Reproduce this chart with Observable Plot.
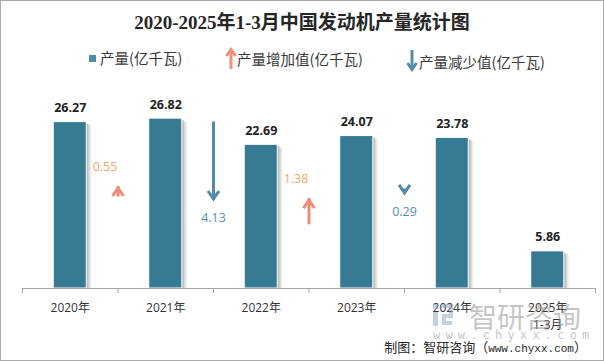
<!DOCTYPE html>
<html>
<head>
<meta charset="utf-8">
<script src="https://cdn.jsdelivr.net/npm/d3@7"></script>
<script src="https://cdn.jsdelivr.net/npm/@observablehq/plot@0.6"></script>
<style>
  html, body { margin: 0; padding: 0; background: #fff; }
  #wrap { position: relative; width: 604px; height: 361px; overflow: hidden; background: #fff;
          font-family: "Noto Sans CJK SC", sans-serif; color: #333; }
  #frame { position: absolute; left: 0; top: 0; width: 604px; height: 361px; box-sizing: border-box;
           border: 1px solid #a9a9a9; pointer-events: none; z-index: 5; }
  #title { position: absolute; left: 0; width: 604px; top: 9px; text-align: center;
           font-family: "Liberation Serif", "Noto Sans CJK SC", serif; font-weight: bold;
           font-size: 19px; line-height: 28px; color: #262626; white-space: nowrap; }
  .lg { position: absolute; font-size: 14.5px; line-height: 20px; color: #3a3a3a; white-space: nowrap; }
  .sq { position: absolute; width: 7px; height: 7px; background: #4a8ea8; }
  #chart { position: absolute; left: 0; top: 80px; }
  #caption { position: absolute; right: 17px; top: 338px; font-size: 13px; line-height: 18px;
             color: #262626; white-space: nowrap; }
  #caption .url { font-family: "Liberation Mono", monospace; font-size: 11px; }
  .wm { position: absolute; pointer-events: none; z-index: 4; white-space: nowrap; color: rgba(140,140,140,0.5); }
</style>
</head>
<body>
<div id="wrap">
  <div id="title">2020-2025年1-3月中国发动机产量统计图</div>

  <div class="sq" style="left:89px;top:55px"></div>
  <div class="lg" style="left:100px;top:48px">产量(亿千瓦)</div>
  <svg style="position:absolute;left:225px;top:47px" width="12" height="23">
    <line x1="6" y1="22" x2="6" y2="3" stroke="#f08e7a" stroke-width="3"/>
    <polyline points="1.5,9 6,2.5 10.5,9" fill="none" stroke="#f08e7a" stroke-width="3"/>
  </svg>
  <div class="lg" style="left:237px;top:49px">产量增加值(亿千瓦)</div>
  <svg style="position:absolute;left:406px;top:49px" width="12" height="23">
    <line x1="6" y1="1" x2="6" y2="20" stroke="#568ea8" stroke-width="3"/>
    <polyline points="1.5,14 6,20.5 10.5,14" fill="none" stroke="#568ea8" stroke-width="3"/>
  </svg>
  <div class="lg" style="left:419px;top:52px">产量减少值(亿千瓦)</div>

  <div id="chart"></div>

  <svg class="wm" style="left:432px;top:304px" width="22" height="23">
    <rect x="1" y="0" width="5" height="5" fill="rgba(120,150,185,0.45)"/>
    <rect x="1" y="8" width="5" height="14" fill="rgba(120,150,185,0.45)"/>
    <path d="M9,2 H19 V12 H12 V19 H20" fill="none" stroke="rgba(120,150,185,0.45)" stroke-width="4"/>
  </svg>
  <div class="wm" style="left:469px;top:299px;font-size:28px;line-height:34px;">智研咨询</div>
  <div class="wm" style="left:433px;top:327px;font-size:12px;line-height:16px;letter-spacing:5.2px;font-family:'DejaVu Sans Mono',monospace;">www.chyxx.com</div>

  <div id="caption">制图：智研咨询（<span class="url">www.chyxx.com</span>）</div>
  <div id="frame"></div>
</div>
<script>
// ---- data ----
const years = ["2020年", "2021年", "2022年", "2023年", "2024年", "2025年\n1-3月"];
const output = [26.27, 26.82, 22.69, 24.07, 23.78, 5.86];          // 产量(亿千瓦)
const changes = [0.55, -4.13, 1.38, -0.29];                          // year-over-year change between neighbours
const arrowTip = [16.1, 13.9, 14.2, 14.85];                          // level (in 亿千瓦 units) where each arrow points

// ---- derived tables ----
const bars = years.map((year, i) => ({ i, year, value: output[i] }));
const arrows = changes.map((c, i) => ({
  b: i + 1, change: c, tip: arrowTip[i], tail: arrowTip[i] - 3 * c,
  label: Math.abs(c).toFixed(2)
}));
const ups = arrows.filter(d => d.change > 0);
const downs = arrows.filter(d => d.change < 0);
const bounds = d3.range(years.length + 1);

const UP = "#ef8c78", DOWN = "#548ca7", UPTXT = "#f2a66b", DOWNTXT = "#5390b4";
const BAR = "#367b93";
const hw = 0.173;

const chevUp = { draw(ctx, size) { const r = Math.sqrt(size / Math.PI);
  ctx.moveTo(-r, r * 1.45 + 1.5); ctx.lineTo(0, 1.5); ctx.lineTo(r, r * 1.45 + 1.5); } };
const chevDown = { draw(ctx, size) { const r = Math.sqrt(size / Math.PI);
  ctx.moveTo(-r, -r * 1.45 - 1.5); ctx.lineTo(0, -1.5); ctx.lineTo(r, -r * 1.45 - 1.5); } };

const numFont = "Open Sans, Noto Sans CJK SC, sans-serif";

const chart = Plot.plot({
  width: 604,
  height: 260,
  marginLeft: 22,
  marginRight: 9,
  marginTop: 18,
  marginBottom: 52,
  x: { domain: [0, years.length], axis: null },
  y: { domain: [0, 30], axis: null },
  style: { background: "transparent", fontFamily: numFont },
  marks: [
    // bar shadows
    Plot.rectY(bars, { x1: d => d.i + 0.5 - hw, x2: d => d.i + 0.5 + hw, y: "value", fill: "#ededed", dx: 5, insetTop: 4 }),
    Plot.rectY(bars, { x1: d => d.i + 0.5 - hw, x2: d => d.i + 0.5 + hw, y: "value", fill: "#d8d8d8", dx: 3.5, insetTop: 3 }),
    Plot.rectY(bars, { x1: d => d.i + 0.5 - hw, x2: d => d.i + 0.5 + hw, y: "value", fill: "#bcbcbc", dx: 2, insetTop: 2 }),
    // bars
    Plot.rectY(bars, { x1: d => d.i + 0.5 - hw, x2: d => d.i + 0.5 + hw, y: "value", fill: BAR, stroke: "#fff", strokeWidth: 1 }),
    // axis line and ticks
    Plot.ruleY([0], { stroke: "#a6a6a6", strokeWidth: 1 }),
    Plot.ruleX(bounds, { x: d => d, y1: 0, y2: 0, insetBottom: -5, stroke: "#a6a6a6" }),
    // category labels
    Plot.text(bars, { x: d => d.i + 0.5, y: 0, text: "year", dy: 11, lineAnchor: "top", lineHeight: 1.42,
      fontSize: 12, fill: "#333", fontFamily: numFont }),
    // value labels
    Plot.text(bars, { x: d => d.i + 0.5, y: "value", text: d => d.value.toFixed(2), dy: -14,
      fontSize: 12.5, fontWeight: "bold", fill: "#222", fontFamily: numFont }),
    // arrows: shafts
    Plot.ruleX(ups, { x: "b", y1: "tail", y2: "tip", stroke: UP, strokeWidth: 3 }),
    Plot.ruleX(downs, { x: "b", y1: "tail", y2: "tip", stroke: DOWN, strokeWidth: 3 }),
    // arrows: heads
    Plot.dot(ups, { x: "b", y: "tip", symbol: chevUp, r: 5.5, fill: "none", stroke: UP, strokeWidth: 3, strokeLinejoin: "miter" }),
    Plot.dot(downs, { x: "b", y: "tip", symbol: chevDown, r: 5.5, fill: "none", stroke: DOWN, strokeWidth: 3, strokeLinejoin: "miter" }),
    // change labels
    Plot.text(ups, { x: "b", y: "tip", text: "label", dx: -13, dy: -20, fontSize: 12.5, fill: UPTXT, fontFamily: numFont }),
    Plot.text(downs, { x: "b", y: "tip", text: "label", dy: 18, fontSize: 12.5, fill: DOWNTXT, fontFamily: numFont })
  ]
});
document.getElementById("chart").appendChild(chart);
</script>
</body>
</html>
